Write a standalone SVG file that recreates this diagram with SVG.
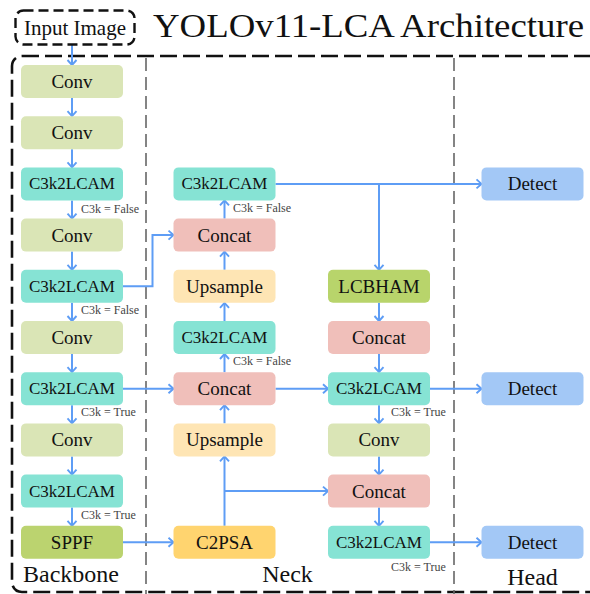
<svg xmlns="http://www.w3.org/2000/svg" width="590" height="594" viewBox="0 0 590 594">
  <style>
    text { font-family: "Liberation Serif", "Times New Roman", serif; fill: #111; }
    .box text { font-family: "Liberation Serif", "Times New Roman", serif; text-anchor: middle; dominant-baseline: central; font-size: 19px; }
    .box text.c3 { font-size: 17px; }
    text.note { font-size: 12px; fill: #444; }
    text.sec { font-size: 24px; }
    .conv { fill: #DAE5B6; }
    .c3k { fill: #86E3D4; }
    .concat { fill: #F0BFBA; }
    .up { fill: #FEE5B4; }
    .c2psa { fill: #FFD46F; }
    .sppf { fill: #BBD36F; }
    .lcb { fill: #B8D46B; }
    .det { fill: #A3C8F6; }
    .edge { fill: none; stroke: #5E9DF5; stroke-width: 2; marker-end: url(#arr); }
    .divider { stroke: #666; stroke-width: 1.6; stroke-dasharray: 13 6; }
  </style>
  <defs>
    <marker id="arr" markerUnits="userSpaceOnUse" markerWidth="12" markerHeight="12" viewBox="0 0 12 12" refX="7" refY="6" orient="auto">
      <path d="M2,1.5 L7,6 L2,10.5" fill="none" stroke="#5E9DF5" stroke-width="1.9"/>
    </marker>
    <rect id="b" width="102" height="33" rx="5"/>
  </defs>

  <rect width="590" height="594" fill="#fff"/>

  <!-- frame and section dividers -->
  <rect x="12" y="56" width="600" height="536" rx="10" fill="none" stroke="#111" stroke-width="2.6" stroke-dasharray="17 6"/>
  <line class="divider" x1="146" y1="58" x2="146" y2="594"/>
  <line class="divider" x1="454" y1="58" x2="454" y2="594"/>

  <!-- title -->
  <text x="153" y="37" font-size="34" textLength="431" lengthAdjust="spacingAndGlyphs">YOLOv11-LCA Architecture</text>

  <!-- section labels -->
  <text class="sec" x="71" y="582" text-anchor="middle">Backbone</text>
  <text class="sec" x="287.5" y="582" text-anchor="middle">Neck</text>
  <text class="sec" x="532.5" y="585" text-anchor="middle">Head</text>

  <!-- connectors -->
  <g id="connectors">
    <path class="edge" d="M72,45 V65"/>
    <path class="edge" d="M72,98 V116.2"/>
    <path class="edge" d="M72,149.2 V167.4"/>
    <path class="edge" d="M72,200.4 V218.6"/>
    <path class="edge" d="M72,251.6 V269.8"/>
    <path class="edge" d="M72,302.8 V321"/>
    <path class="edge" d="M72,354 V372.2"/>
    <path class="edge" d="M72,405.2 V423.4"/>
    <path class="edge" d="M72,456.4 V474.6"/>
    <path class="edge" d="M72,507.6 V525.8"/>

    <path class="edge" d="M123,286.3 H152.5 V235.1 H173.5"/>
    <path class="edge" d="M123,388.7 H173.5"/>
    <path class="edge" d="M123,542.3 H173.5"/>

    <path class="edge" d="M224.5,525.8 V456.4"/>
    <path class="edge" d="M224.5,491.1 H328"/>
    <path class="edge" d="M224.5,423.4 V405.2"/>
    <path class="edge" d="M224.5,372.2 V354"/>
    <path class="edge" d="M224.5,321 V302.8"/>
    <path class="edge" d="M224.5,269.8 V251.6"/>
    <path class="edge" d="M224.5,218.6 V200.4"/>

    <path class="edge" d="M275.5,183.9 H481.5"/>
    <path class="edge" d="M379,183.9 V269.8"/>
    <path class="edge" d="M379,302.8 V321"/>
    <path class="edge" d="M379,354 V372.2"/>
    <path class="edge" d="M275.5,388.7 H328"/>
    <path class="edge" d="M430,388.7 H481.5"/>
    <path class="edge" d="M379,405.2 V423.4"/>
    <path class="edge" d="M379,456.4 V474.6"/>
    <path class="edge" d="M379,507.6 V525.8"/>
    <path class="edge" d="M430,542.3 H481.5"/>
  </g>

  <!-- input -->
  <g id="input">
    <rect x="15.5" y="10.5" width="119" height="34" rx="8" fill="#fff" stroke="#111" stroke-width="2.4" stroke-dasharray="10 5"/>
    <text x="75" y="28" text-anchor="middle" dominant-baseline="central" font-size="21">Input Image</text>
  </g>

  <!-- backbone -->
  <g id="b1" class="box"><use href="#b" x="21" y="65" class="conv"/><text x="72" y="81.5">Conv</text></g>
  <g id="b2" class="box"><use href="#b" x="21" y="116.2" class="conv"/><text x="72" y="132.7">Conv</text></g>
  <g id="b3" class="box"><use href="#b" x="21" y="167.4" class="c3k"/><text class="c3" x="72" y="183.9">C3k2LCAM</text></g>
  <g id="b4" class="box"><use href="#b" x="21" y="218.6" class="conv"/><text x="72" y="235.1">Conv</text></g>
  <g id="b5" class="box"><use href="#b" x="21" y="269.8" class="c3k"/><text class="c3" x="72" y="286.3">C3k2LCAM</text></g>
  <g id="b6" class="box"><use href="#b" x="21" y="321" class="conv"/><text x="72" y="337.5">Conv</text></g>
  <g id="b7" class="box"><use href="#b" x="21" y="372.2" class="c3k"/><text class="c3" x="72" y="388.7">C3k2LCAM</text></g>
  <g id="b8" class="box"><use href="#b" x="21" y="423.4" class="conv"/><text x="72" y="439.9">Conv</text></g>
  <g id="b9" class="box"><use href="#b" x="21" y="474.6" class="c3k"/><text class="c3" x="72" y="491.1">C3k2LCAM</text></g>
  <g id="b10" class="box"><use href="#b" x="21" y="525.8" class="sppf"/><text x="72" y="542.3">SPPF</text></g>

  <!-- neck, first column -->
  <g id="n3" class="box"><use href="#b" x="173.5" y="167.4" class="c3k"/><text class="c3" x="224.5" y="183.9">C3k2LCAM</text></g>
  <g id="n4" class="box"><use href="#b" x="173.5" y="218.6" class="concat"/><text x="224.5" y="235.1">Concat</text></g>
  <g id="n5" class="box"><use href="#b" x="173.5" y="269.8" class="up"/><text x="224.5" y="286.3">Upsample</text></g>
  <g id="n6" class="box"><use href="#b" x="173.5" y="321" class="c3k"/><text class="c3" x="224.5" y="337.5">C3k2LCAM</text></g>
  <g id="n7" class="box"><use href="#b" x="173.5" y="372.2" class="concat"/><text x="224.5" y="388.7">Concat</text></g>
  <g id="n8" class="box"><use href="#b" x="173.5" y="423.4" class="up"/><text x="224.5" y="439.9">Upsample</text></g>
  <g id="n10" class="box"><use href="#b" x="173.5" y="525.8" class="c2psa"/><text x="224.5" y="542.3">C2PSA</text></g>

  <!-- neck, second column -->
  <g id="m5" class="box"><use href="#b" x="328" y="269.8" class="lcb"/><text x="379" y="286.3">LCBHAM</text></g>
  <g id="m6" class="box"><use href="#b" x="328" y="321" class="concat"/><text x="379" y="337.5">Concat</text></g>
  <g id="m7" class="box"><use href="#b" x="328" y="372.2" class="c3k"/><text class="c3" x="379" y="388.7">C3k2LCAM</text></g>
  <g id="m8" class="box"><use href="#b" x="328" y="423.4" class="conv"/><text x="379" y="439.9">Conv</text></g>
  <g id="m9" class="box"><use href="#b" x="328" y="474.6" class="concat"/><text x="379" y="491.1">Concat</text></g>
  <g id="m10" class="box"><use href="#b" x="328" y="525.8" class="c3k"/><text class="c3" x="379" y="542.3">C3k2LCAM</text></g>

  <!-- head -->
  <g id="h3" class="box"><use href="#b" x="481.5" y="167.4" class="det"/><text x="532.5" y="183.9">Detect</text></g>
  <g id="h7" class="box"><use href="#b" x="481.5" y="372.2" class="det"/><text x="532.5" y="388.7">Detect</text></g>
  <g id="h10" class="box"><use href="#b" x="481.5" y="525.8" class="det"/><text x="532.5" y="542.3">Detect</text></g>

  <!-- block options -->
  <g id="notes">
    <text class="note" x="81" y="213">C3k = False</text>
    <text class="note" x="81" y="314">C3k = False</text>
    <text class="note" x="81" y="416">C3k = True</text>
    <text class="note" x="81" y="519">C3k = True</text>
    <text class="note" x="233" y="212">C3k = False</text>
    <text class="note" x="233" y="365">C3k = False</text>
    <text class="note" x="391" y="416">C3k = True</text>
    <text class="note" x="391" y="571">C3k = True</text>
  </g>
</svg>
